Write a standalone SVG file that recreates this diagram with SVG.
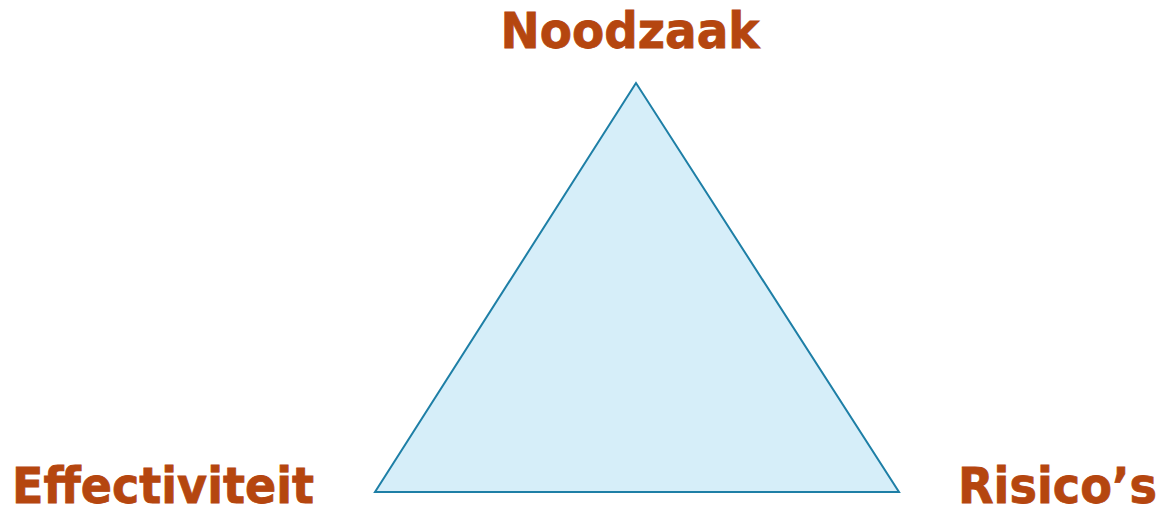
<svg xmlns="http://www.w3.org/2000/svg" width="1165" height="509" viewBox="0 0 1165 509">
<style>
.lbl{font-family:"DejaVu Sans",Verdana,sans-serif;font-weight:bold;font-size:49px;fill:#B5460F;stroke:#B5460F;stroke-width:0.8}
.tri{fill:#D6EEF9;stroke:#1E7FA6;stroke-width:2}
</style>
<rect width="1165" height="509" fill="#fff"/>
<g id="triangle"><polygon class="tri" points="636,83 375,492 899,492"/></g>
<g id="connectors"></g>
<g id="noodzaak"><text class="lbl" x="630" y="48" text-anchor="middle" textLength="259" lengthAdjust="spacingAndGlyphs">Noodzaak</text></g>
<g id="effectiviteit"><text class="lbl" x="12" y="503" textLength="302" lengthAdjust="spacingAndGlyphs">Effectiviteit</text></g>
<g id="risicos"><text class="lbl" x="958" y="503" textLength="199" lengthAdjust="spacingAndGlyphs">Risico’s</text></g>
</svg>
